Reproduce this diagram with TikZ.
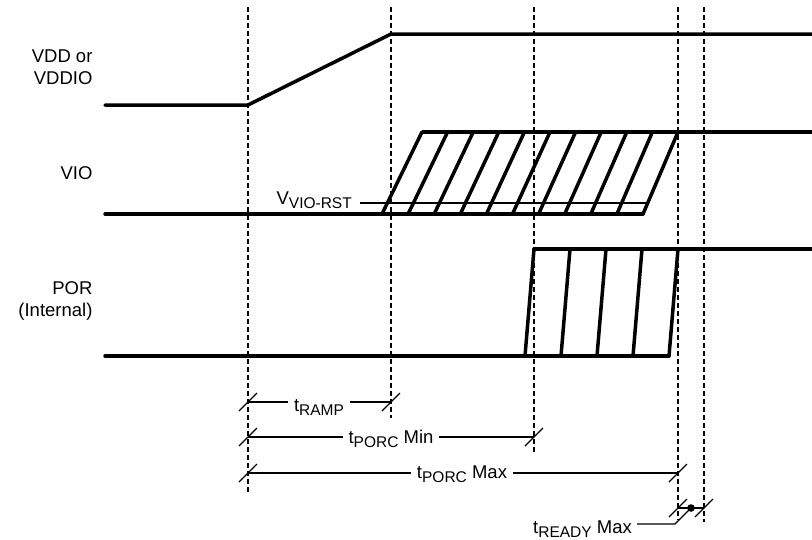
\documentclass[tikz,border=0pt]{standalone}
\usepackage{fontspec}
\setmainfont{Liberation Sans}
\usetikzlibrary{positioning}

\newcommand{\lowsub}[1]{\raisebox{-4pt}{\fontsize{15.5}{15.5}\selectfont #1}}

\begin{document}
\begin{tikzpicture}[x=1pt, y=-1pt, font=\fontsize{18.5}{22}\selectfont,
    signal/.style={line width=3.5pt, line join=round, line cap=round},
    guide/.style={line width=1.2pt, dash pattern=on 5pt off 3pt},
    dim/.style={line width=1.3pt},
    dimlabel/.style={fill=white, inner xsep=6pt, inner ysep=1pt, anchor=base}]
    \useasboundingbox (0,0) rectangle (812,539);

    % guides
    \foreach \x/\yb in {248/493, 391/418, 534/452, 678/520, 704/522}
        \draw[guide] (\x,7) -- (\x,\yb);

    % signal names
    \node[anchor=east, align=right] (vddname) at (96,67) {VDD or\\VDDIO};
    \node[anchor=east] (vioname) at (96,173) {VIO};
    \node[anchor=east, align=right] (porname) at (96,301) {POR\\(Internal)};

    % VDD / VDDIO
    \draw[signal] (105,105) -- (248,105) -- (391,34) -- (812,34);

    % VIO
    \draw[signal] (105,214) -- (643,214);
    \draw[signal] (423,132) -- (812,132);
    \foreach \k in {0,...,10}
        \draw[signal] (382+26.1*\k,214) -- (422+25.6*\k,132);
    \node[anchor=base east, inner sep=0pt] (vrst) at (352,204) {V\lowsub{VIO-RST}};
    \coordinate (rststart) at (360,203);
    \coordinate (rstend) at (647,203);
    \draw[dim] (rststart) -- (rstend);

    % POR
    \draw[signal] (105,356) -- (669,356);
    \draw[signal] (534,249) -- (812,249);
    \foreach \k in {0,...,4}
        \draw[signal] (525+36*\k,356) -- (534+36*\k,249);

    % timing
    \coordinate (rampa) at (248,402);
    \coordinate (rampb) at (391,402);
    \coordinate (porcmina) at (248,437);
    \coordinate (porcminb) at (534,437);
    \coordinate (porcmaxa) at (248,473);
    \coordinate (porcmaxb) at (678,473);
    \coordinate (readya) at (678,508);
    \coordinate (readyb) at (704,508);
    \draw[dim] (rampa) -- (rampb);
    \draw[dim] (porcmina) -- (porcminb);
    \draw[dim] (porcmaxa) -- (porcmaxb);
    \draw[dim] (readya) -- (readyb);
    \foreach \p in {rampa, rampb, porcmina, porcminb, porcmaxa, porcmaxb, readya, readyb}
        \draw[dim] (\p) ++(-9,9) -- ++(18,-18);

    \node[dimlabel] (tramp) at (319,411) {t\lowsub{RAMP}};
    \node[dimlabel] (tporcmin) at (391,443) {t\lowsub{PORC} Min};
    \node[dimlabel] (tporcmax) at (462,478) {t\lowsub{PORC} Max};

    % tREADY
    \node[anchor=base east, inner sep=0pt] (tready) at (632,533) {t\lowsub{READY} Max};
    \coordinate (readydot) at (691,508);
    \coordinate (readyknee) at (675,524);
    \coordinate (readylead) at (637,524);
    \fill (readydot) circle (3.8pt);
    \draw[dim] (readylead) -- (readyknee) -- (readydot);
\end{tikzpicture}
\end{document}
